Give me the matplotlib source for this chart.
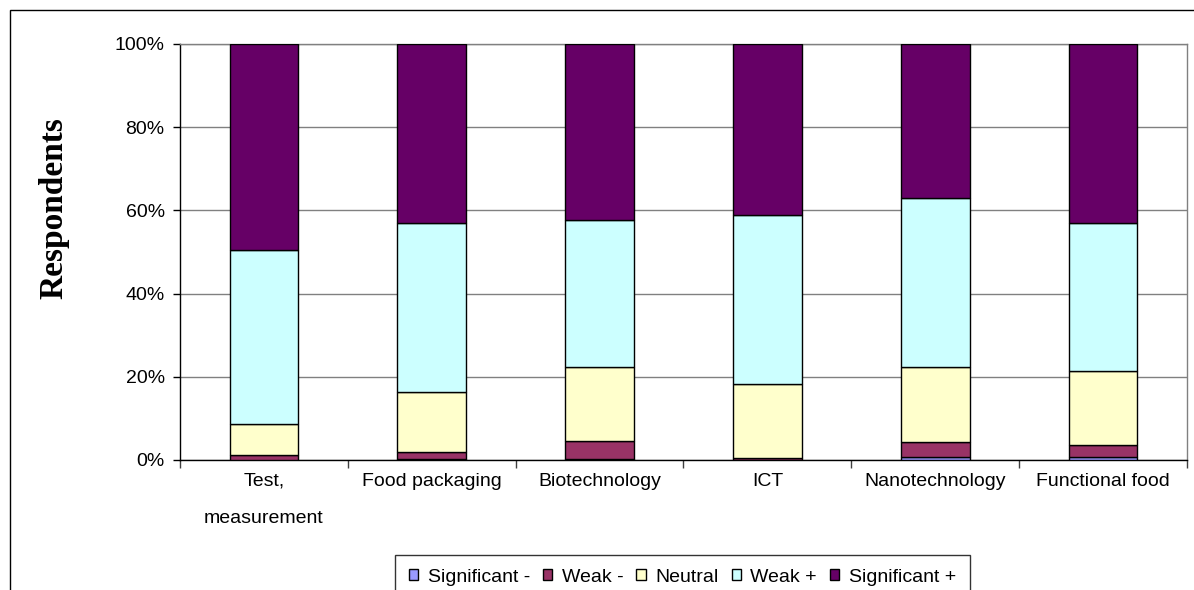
import matplotlib
matplotlib.use("Agg")
import matplotlib.pyplot as plt
from matplotlib.patches import Rectangle
import numpy as np

categories = ["Test,\nmeasurement", "Food packaging", "Biotechnology", "ICT",
              "Nanotechnology", "Functional food"]
series_names = ["Significant -", "Weak -", "Neutral", "Weak +", "Significant +"]
significant_minus = [0.0, 0.3, 0.3, 0.0, 0.8, 0.8]
weak_minus = [1.2, 1.7, 4.3, 0.4, 3.5, 2.8]
neutral = [7.4, 14.3, 17.8, 17.9, 18.1, 17.7]
weak_plus = [42.0, 40.6, 35.2, 40.5, 40.6, 35.6]
significant_plus = [49.4, 43.1, 42.4, 41.2, 37.0, 43.1]
y_ticks = [0, 20, 40, 60, 80, 100]
y_tick_labels = ["0%", "20%", "40%", "60%", "80%", "100%"]
colors = ["#9999FF", "#993366", "#FFFFCC", "#CCFFFF", "#660066"]

plt.rcParams['font.family'] = ['Liberation Sans', 'DejaVu Sans']

W, H = 1194, 590
fig = plt.figure(figsize=(W / 100, H / 100), dpi=100)
ax = fig.add_axes([180 / W, (H - 460) / H, (1187 - 180) / W, (460 - 44) / H])

series = [significant_minus, weak_minus, neutral, weak_plus, significant_plus]
x = np.arange(len(categories))
bottom = np.zeros(len(categories))
handles = []
for name, vals, c in zip(series_names, series, colors):
    vals = np.array(vals, dtype=float)
    b = ax.bar(x, vals, width=0.41, bottom=bottom, color=c, edgecolor="black",
               linewidth=1.0, label=name, zorder=3)
    handles.append(b)
    bottom += vals

ax.set_xlim(-0.5, len(categories) - 0.5)
ax.set_ylim(0, 100)
ax.set_yticks(y_ticks)
ax.set_yticklabels(y_tick_labels, fontsize=14)
ax.yaxis.grid(True, color="#808080", linewidth=1.0, zorder=0)
ax.set_axisbelow(True)

ax.set_xticks(x)
ax.set_xticklabels(categories, fontsize=14, linespacing=2.55)
ax.tick_params(axis='x', length=0, pad=9)
ax.set_xticks(np.arange(-0.5, len(categories), 1.0), minor=True)
ax.tick_params(axis='x', which='minor', length=6, width=1, color="#404040", direction='out')
ax.tick_params(axis='y', length=5, width=1, direction='out', pad=6)

for s in ["top", "right"]:
    ax.spines[s].set_color("#808080")
    ax.spines[s].set_linewidth(1.0)
for s in ["left", "bottom"]:
    ax.spines[s].set_color("black")
    ax.spines[s].set_linewidth(1.0)

fig.text(54 / W, 1 - 208.5 / H, "Respondents", rotation=90, ha="center", va="center",
         fontsize=24, fontweight="bold", family=["Liberation Serif", "DejaVu Serif"])

# outer chart border (cut off on the right and bottom)
fig.patches.append(Rectangle((10 / W, -0.05), 1.2, (H - 10) / H + 0.05,
                             transform=fig.transFigure, fill=False,
                             edgecolor="black", linewidth=1.0))

leg = fig.legend(handles=handles, labels=series_names, loc="upper center",
                 bbox_to_anchor=(682.5 / W, (H - 555) / H), ncol=5,
                 fontsize=14, frameon=True, fancybox=False, edgecolor="black",
                 handlelength=0.47, handleheight=0.47, handletextpad=0.5,
                 columnspacing=0.67, borderpad=0.7, borderaxespad=0)
leg.get_frame().set_linewidth(1.0)

fig.savefig("out.png", dpi=100)
